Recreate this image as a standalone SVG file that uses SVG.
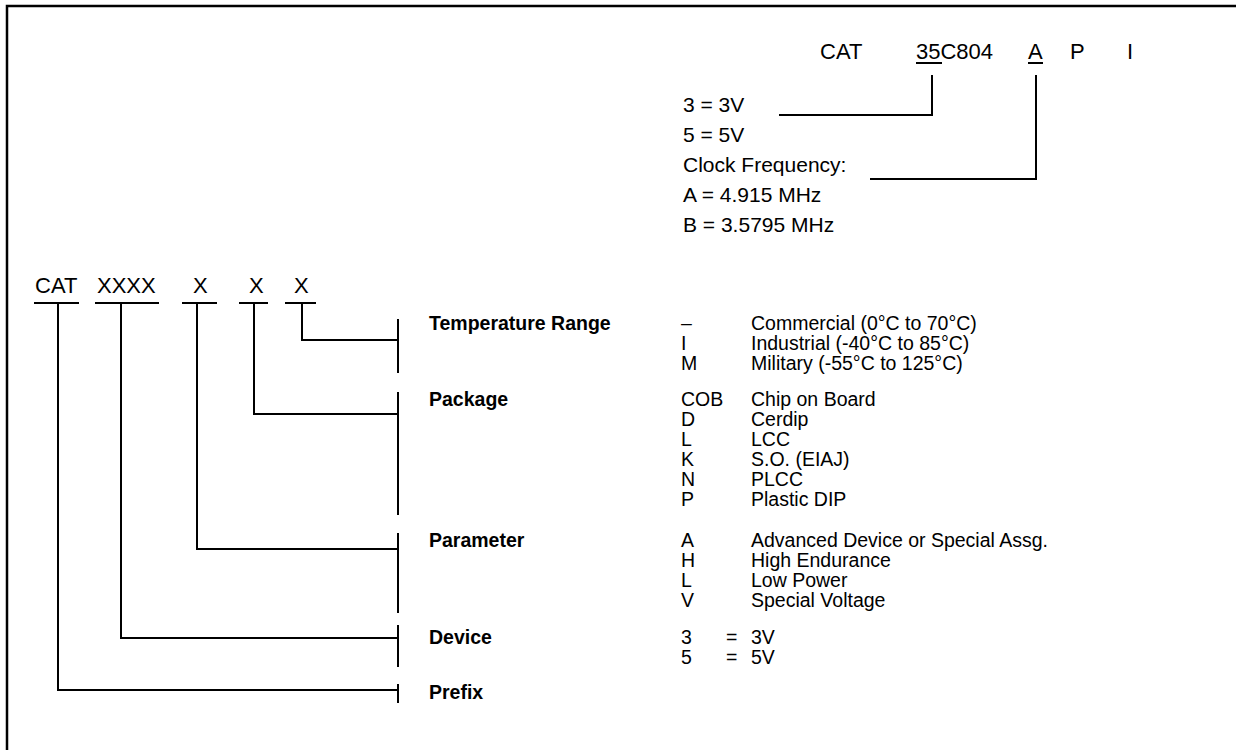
<svg xmlns="http://www.w3.org/2000/svg" width="1236" height="750" viewBox="0 0 1236 750">
<style>
text{font-family:"Liberation Sans",Arial,sans-serif;fill:#000}
.t{font-size:22px}
.s{font-size:21px}
.b{font-size:19.5px;font-weight:bold}
.r{font-size:19.5px}
.ln{fill:none;stroke:#000;stroke-width:2}
</style>
<rect width="1236" height="750" fill="#fff"/>
<path d="M7,750 V6 H1236" fill="none" stroke="#000" stroke-width="2.5"/>

<g id="example">
<text class="t" x="820" y="59">CAT</text>
<text class="t" x="916" y="59">35C804</text>
<text class="t" x="1028" y="59">A</text>
<text class="t" x="1070" y="59">P</text>
<text class="t" x="1127" y="59">I</text>
<line class="ln" x1="916" y1="63" x2="942" y2="63" stroke-width="1.5"/>
<line class="ln" x1="1028" y1="63" x2="1043" y2="63" stroke-width="1.5"/>
</g>
<g id="example-notes">
<text class="s" x="683" y="112">3 = 3V</text>
<text class="s" x="683" y="142">5 = 5V</text>
<text class="s" x="683" y="172">Clock Frequency:</text>
<text class="s" x="683" y="202">A = 4.915 MHz</text>
<text class="s" x="683" y="232">B = 3.5795 MHz</text>
</g>

<g id="code">
<text class="t" x="35" y="293">CAT</text>
<text class="t" x="97" y="293">XXXX</text>
<text class="t" x="193" y="293">X</text>
<text class="t" x="249" y="293">X</text>
<text class="t" x="294" y="293">X</text>
<line class="ln" x1="34" y1="303" x2="79" y2="303"/>
<line class="ln" x1="95" y1="303" x2="159" y2="303"/>
<line class="ln" x1="182" y1="303" x2="217" y2="303"/>
<line class="ln" x1="239" y1="303" x2="268" y2="303"/>
<line class="ln" x1="285" y1="303" x2="316" y2="303"/>
</g>

<g id="connectors">
<polyline class="ln" points="932,75 932,115 779,115"/>
<polyline class="ln" points="1036,75 1036,179 870,179"/>
<polyline class="ln" points="302,303 302,340 398,340"/>
<polyline class="ln" points="254,303 254,414 398,414"/>
<polyline class="ln" points="197,303 197,549 398,549"/>
<polyline class="ln" points="121,303 121,638 398,638"/>
<polyline class="ln" points="58,303 58,690 398,690"/>
<line class="ln" x1="398" y1="319" x2="398" y2="373"/>
<line class="ln" x1="398" y1="392" x2="398" y2="515"/>
<line class="ln" x1="398" y1="533" x2="398" y2="613"/>
<line class="ln" x1="398" y1="625" x2="398" y2="667"/>
<line class="ln" x1="398" y1="684" x2="398" y2="703"/>
</g>

<g id="temperature">
<text class="b" x="429" y="330">Temperature Range</text>
<text class="r" x="681" y="330">–</text><text class="r" x="751" y="330">Commercial (0°C to 70°C)</text>
<text class="r" x="681" y="350">I</text><text class="r" x="751" y="350">Industrial (-40°C to 85°C)</text>
<text class="r" x="681" y="370">M</text><text class="r" x="751" y="370">Military (-55°C to 125°C)</text>
</g>
<g id="package">
<text class="b" x="429" y="406">Package</text>
<text class="r" x="681" y="406">COB</text><text class="r" x="751" y="406">Chip on Board</text>
<text class="r" x="681" y="426">D</text><text class="r" x="751" y="426">Cerdip</text>
<text class="r" x="681" y="446">L</text><text class="r" x="751" y="446">LCC</text>
<text class="r" x="681" y="466">K</text><text class="r" x="751" y="466">S.O. (EIAJ)</text>
<text class="r" x="681" y="486">N</text><text class="r" x="751" y="486">PLCC</text>
<text class="r" x="681" y="506">P</text><text class="r" x="751" y="506">Plastic DIP</text>
</g>
<g id="parameter">
<text class="b" x="429" y="547">Parameter</text>
<text class="r" x="681" y="547">A</text><text class="r" x="751" y="547">Advanced Device or Special Assg.</text>
<text class="r" x="681" y="567">H</text><text class="r" x="751" y="567">High Endurance</text>
<text class="r" x="681" y="587">L</text><text class="r" x="751" y="587">Low Power</text>
<text class="r" x="681" y="607">V</text><text class="r" x="751" y="607">Special Voltage</text>
</g>
<g id="device">
<text class="b" x="429" y="644">Device</text>
<text class="r" x="681" y="644">3</text><text class="r" x="726" y="644">=</text><text class="r" x="751" y="644">3V</text>
<text class="r" x="681" y="664">5</text><text class="r" x="726" y="664">=</text><text class="r" x="751" y="664">5V</text>
</g>
<g id="prefix">
<text class="b" x="429" y="699">Prefix</text>
</g>
</svg>
